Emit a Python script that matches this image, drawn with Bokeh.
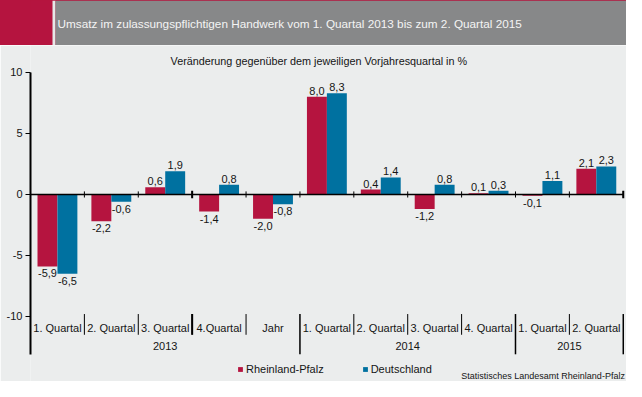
from bokeh.plotting import figure
from bokeh.layouts import column
from bokeh.models import Range1d, FixedTicker, ColumnDataSource, Legend, LegendItem
from bokeh.core.properties import value
from bokeh.embed import file_html
from bokeh.resources import INLINE

# ---------------- data ----------------
title_text = "Umsatz im zulassungspflichtigen Handwerk vom 1. Quartal 2013 bis zum 2. Quartal 2015"
subtitle_text = "Veränderung gegenüber dem jeweiligen Vorjahresquartal in %"
source_text = "Statistisches Landesamt Rheinland-Pfalz"

categories = ["1. Quartal", "2. Quartal", "3. Quartal", "4.Quartal", "Jahr",
              "1. Quartal", "2. Quartal", "3. Quartal", "4. Quartal",
              "1. Quartal", "2. Quartal"]
years = ["2013", "2014", "2015"]
year_counts = [5, 4, 2]

series_names = ["Rheinland-Pfalz", "Deutschland"]
rlp = [-5.9, -2.2, 0.6, -1.4, -2.0, 8.0, 0.4, -1.2, 0.1, -0.1, 2.1]
de = [-6.5, -0.6, 1.9, 0.8, -0.8, 8.3, 1.4, 0.8, 0.3, 1.1, 2.3]

y_ticks = [-10, -5, 0, 5, 10]
y_tick_labels = ["-10", "-5", "0", "5", "10"]

# ---------------- style ----------------
BG = "#EBEDED"
RED = "#B5143F"
BLUE = "#0071A0"
GRAY = "#878889"
FONT = "Liberation Sans"
TXT = "#151515"

W = 626
LEFT = 30
TOP_H = 45
MAIN_H = 336

# ---------------- top banner ----------------
top = figure(width=W, height=TOP_H, x_range=Range1d(LEFT, W), y_range=Range1d(TOP_H, 0),
             x_axis_type=None, y_axis_type=None, output_backend="svg",
             toolbar_location=None, min_border_left=LEFT, min_border_right=0,
             min_border_top=0, min_border_bottom=0, outline_line_color=None,
             background_fill_color=RED, border_fill_color=None,
             styles={"background-color": RED})
top.xgrid.visible = False
top.ygrid.visible = False
top.quad(left=[52], right=[55], top=[0], bottom=[TOP_H], fill_color="#E6E8E8", line_color=None)
top.quad(left=[55], right=[W], top=[0], bottom=[TOP_H], fill_color=GRAY, line_color=None)
top.text(x=[57], y=[23], text=[title_text], text_font=value(FONT), text_font_size="11.75px",
         text_color="#F4F4F4", text_baseline="middle", text_align="left")

# ---------------- main chart ----------------
n = len(categories)
y_bottom_axis = -13.1
p = figure(width=W, height=MAIN_H, x_range=Range1d(0, 11.06), y_range=Range1d(-15.33, 12.21),
           x_axis_type=None, output_backend="svg", toolbar_location=None,
           min_border_left=LEFT, min_border_right=0, min_border_top=0, min_border_bottom=0,
           background_fill_color=BG, border_fill_color=BG, outline_line_color=None)
p.ygrid.visible = False

ax = p.yaxis[0]
ax.ticker = FixedTicker(ticks=y_ticks)
ax.major_label_overrides = {t: l for t, l in zip(y_ticks, y_tick_labels)}
ax.bounds = (y_bottom_axis, 10)
ax.axis_line_width = 2
ax.axis_line_color = "black"
ax.major_tick_line_color = "black"
ax.major_tick_out = 5
ax.major_tick_in = 0
ax.minor_tick_out = 0
ax.minor_tick_in = 0
ax.major_label_standoff = 3
ax.major_label_text_font = FONT
ax.major_label_text_font_size = "11px"
ax.major_label_text_color = TXT

# subtitle
p.text(x=[5.35], y=[10.98], text=[subtitle_text], text_font=value(FONT), text_font_size="10.8px",
       text_color=TXT, text_baseline="middle", text_align="center")

centers = [i + 0.5 for i in range(n)]
off = 0.185
bw = 0.37

def fmt(v):
    return f"{v:.1f}".replace(".", ",")

src = ColumnDataSource(dict(
    xr=[c - off for c in centers], xb=[c + off for c in centers],
    rlp=rlp, de=de,
))
r1 = p.vbar(x="xr", top="rlp", bottom=0, width=bw, source=src, fill_color=RED, line_color=None)
r2 = p.vbar(x="xb", top="de", bottom=0, width=bw, source=src, fill_color=BLUE, line_color=None)

# value labels
for xs, vals in ((src.data["xr"], rlp), (src.data["xb"], de)):
    pos = [(x, v) for x, v in zip(xs, vals) if v >= 0]
    neg = [(x, v) for x, v in zip(xs, vals) if v < 0]
    p.text(x=[a for a, _ in pos], y=[b for _, b in pos], text=[fmt(b) for _, b in pos],
           text_font=value(FONT), text_font_size="11px", text_color=TXT,
           text_align="center", text_baseline="bottom", y_offset=-2)
    p.text(x=[a for a, _ in neg], y=[b for _, b in neg], text=[fmt(b) for _, b in neg],
           text_font=value(FONT), text_font_size="11px", text_color=TXT,
           text_align="center", text_baseline="top", y_offset=3)

# zero line with ticks
p.segment(x0=[0], x1=[n], y0=[0], y1=[0], line_color="black", line_width=1.5)
bounds_x = list(range(1, n + 1))
p.segment(x0=bounds_x, x1=bounds_x, y0=[-0.25] * n, y1=[0.25] * n, line_color="black", line_width=1)
p.segment(x0=[3, n], x1=[3, n], y0=[-0.3, -0.3], y1=[0.3, 0.3], line_color="black", line_width=2)

# category separators
group_ends = []
acc = 0
for c in year_counts:
    acc += c
    group_ends.append(acc)
short = [b for b in bounds_x if b not in group_ends]
p.segment(x0=short, x1=short, y0=[-9.8] * len(short), y1=[-11.5] * len(short),
          line_color="black", line_width=1)
p.segment(x0=[3], x1=[3], y0=[-9.8], y1=[-11.5], line_color="black", line_width=2)
p.segment(x0=group_ends, x1=group_ends, y0=[-9.8] * len(group_ends),
          y1=[y_bottom_axis] * len(group_ends), line_color="black", line_width=1.5)

# category labels
p.text(x=centers, y=[-10.95] * n, text=categories, text_font=value(FONT), text_font_size="11px",
       text_color=TXT, text_align="center", text_baseline="middle")

# year labels
starts = [0] + group_ends[:-1]
year_x = [(s + e) / 2 for s, e in zip(starts, group_ends)]
p.text(x=year_x, y=[-12.45] * len(years), text=years, text_font=value(FONT), text_font_size="11px",
       text_color=TXT, text_align="center", text_baseline="middle")

# source
p.text(x=[11.03], y=[-14.92], text=[source_text], text_font=value(FONT), text_font_size="9px",
       text_color=TXT, text_align="right", text_baseline="middle")

# legend
legend = Legend(items=[LegendItem(label=series_names[0], renderers=[r1]),
                       LegendItem(label=series_names[1], renderers=[r2])],
                orientation="horizontal", location=(207, 6),
                glyph_width=6, glyph_height=6, label_standoff=3, spacing=38,
                label_text_font=FONT, label_text_font_size="11px", label_text_color=TXT,
                label_height=12, padding=0, margin=0,
                border_line_color=None, background_fill_alpha=0)
p.add_layout(legend)

layout = column(top, p, spacing=0)
open("out.html", "w").write(file_html(layout, INLINE))
